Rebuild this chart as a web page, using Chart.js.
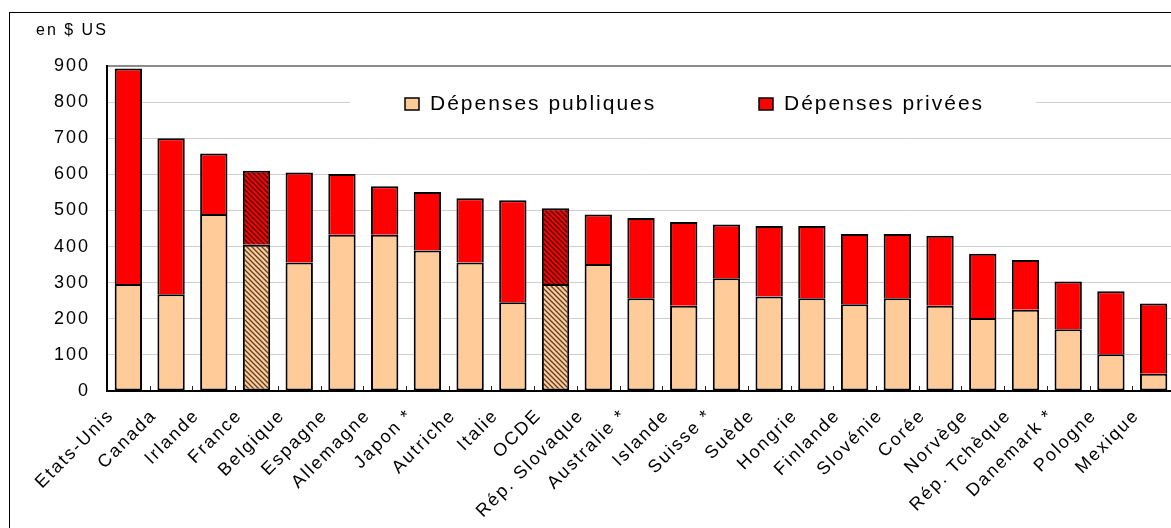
<!DOCTYPE html>
<html>
<head>
<meta charset="utf-8">
<script src="https://cdn.jsdelivr.net/npm/chart.js@4.4.1/dist/chart.umd.min.js"></script>
<style>
  html, body { margin: 0; padding: 0; background: #fff; overflow: hidden; width: 1171px; height: 528px; }
  #wrap { position: relative; width: 1171px; height: 528px; overflow: hidden; }
  #frame { position: absolute; left: 9px; top: 12px; width: 1300px; height: 700px;
           border-left: 1.5px solid #000; border-top: 1.5px solid #000; pointer-events: none; }
  canvas { position: absolute; left: 0; top: 0; }
</style>
</head>
<body>
<div id="wrap">
  <canvas id="chart" width="1176" height="528"></canvas>
  <div id="frame"></div>
</div>
<script>
// Annual spending per student, public vs private share (US dollars)
const countries = ['Etats-Unis', 'Canada', 'Irlande', 'France', 'Belgique', 'Espagne', 'Allemagne',
  'Japon *', 'Autriche', 'Italie', 'OCDE', 'Rép. Slovaque', 'Australie *', 'Islande', 'Suisse *',
  'Suède', 'Hongrie', 'Finlande', 'Slovénie', 'Corée', 'Norvège', 'Rép. Tchèque', 'Danemark *',
  'Pologne', 'Mexique'];
const publicSpend  = [296, 268, 490, 405, 356, 433, 433, 389, 356, 246, 296, 352, 257, 236, 312,
  262, 257, 240, 257, 236, 202, 225, 171, 102, 48];
const privateSpend = [597, 432, 168, 205, 249, 168, 134, 162, 178, 282, 210, 137, 222, 232, 149,
  195, 200, 195, 178, 194, 178, 138, 132, 174, 194];
const yTicks = [0, 100, 200, 300, 400, 500, 600, 700, 800, 900];
const hatchedCountries = ['France', 'OCDE'];
const seriesNames = ['Dépenses publiques', 'Dépenses privées'];
const unitLabel = 'en $ US';

const FONT = '"Liberation Sans", Arial, sans-serif';
const PUBLIC_COLOR = '#FFCC99';
const PRIVATE_COLOR = '#FF0000';

// Diagonal hatching for aggregate / estimated bars
function hatch(base, ink) {
  const s = 5;
  const c = document.createElement('canvas');
  c.width = s; c.height = s;
  const g = c.getContext('2d');
  g.fillStyle = base;
  g.fillRect(0, 0, s, s);
  g.strokeStyle = ink;
  g.lineWidth = 1.3;
  g.beginPath();
  g.moveTo(-1, -1); g.lineTo(s + 1, s + 1);
  g.moveTo(-1, s - 1); g.lineTo(1, s + 1);
  g.moveTo(s - 1, -1); g.lineTo(s + 1, 1);
  g.stroke();
  return g.createPattern(c, 'repeat');
}
const publicHatch = hatch(PUBLIC_COLOR, '#5a3f28');
const privateHatch = hatch(PRIVATE_COLOR, '#3a0000');

function fillFor(plain, pattern) {
  return ctx => hatchedCountries.includes(countries[ctx.dataIndex]) ? pattern : plain;
}

// Wider character spacing on every text draw
const spacing = {
  id: 'spacing',
  beforeUpdate(chart) { chart.ctx.letterSpacing = '2px'; },
  beforeLayout(chart) { chart.ctx.letterSpacing = '2px'; },
  beforeDraw(chart) { chart.ctx.letterSpacing = '2px'; }
};

// Legend drawn inside the plot on a white panel
const legendPanel = {
  left: 350, top: 77, width: 686, height: 50,
  items: [405, 759], box: { w: 14, h: 12, y: 98 }, textGap: 25, baseline: 110
};
const innerLegend = {
  id: 'innerLegend',
  beforeDatasetsDraw(chart) {
    const ctx = chart.ctx;
    const p = legendPanel;
    ctx.save();
    ctx.letterSpacing = '2px';
    ctx.fillStyle = '#fff';
    ctx.fillRect(p.left, p.top, p.width, p.height);
    chart.data.datasets.forEach((ds, i) => {
      const x = p.items[i];
      ctx.fillStyle = ds.legendColor;
      ctx.fillRect(x, p.box.y, p.box.w, p.box.h);
      ctx.lineWidth = 1.5;
      ctx.strokeStyle = '#000';
      ctx.strokeRect(x, p.box.y, p.box.w, p.box.h);
      ctx.fillStyle = '#000';
      ctx.font = '21px ' + FONT;
      ctx.textAlign = 'left';
      ctx.textBaseline = 'alphabetic';
      ctx.fillText(ds.label, x + p.textGap, p.baseline);
    });
    ctx.restore();
  }
};

// Short inward tick marks between categories on the x axis, plus the unit caption
const axisExtras = {
  id: 'axisExtras',
  afterDatasetsDraw(chart) {
    const ctx = chart.ctx;
    const xs = chart.scales.x;
    const bottom = chart.chartArea.bottom;
    const step = xs.getPixelForValue(1) - xs.getPixelForValue(0);
    const first = xs.getPixelForValue(0) - step / 2;
    ctx.save();
    ctx.strokeStyle = '#222';
    ctx.lineWidth = 1;
    ctx.beginPath();
    for (let i = 1; i <= countries.length; i++) {
      const x = Math.round(first + i * step) + 0.5;
      ctx.moveTo(x, bottom);
      ctx.lineTo(x, bottom - 5);
    }
    ctx.stroke();
    ctx.letterSpacing = '2px';
    ctx.fillStyle = '#000';
    ctx.font = '16px ' + FONT;
    ctx.textAlign = 'left';
    ctx.textBaseline = 'alphabetic';
    ctx.fillText(unitLabel, 36, 35);
    ctx.restore();
  }
};

new Chart(document.getElementById('chart'), {
  type: 'bar',
  data: {
    labels: countries,
    datasets: [
      {
        label: seriesNames[0],
        data: publicSpend,
        legendColor: PUBLIC_COLOR,
        backgroundColor: fillFor(PUBLIC_COLOR, publicHatch),
        borderColor: '#000',
        borderWidth: 2,
        borderSkipped: false
      },
      {
        label: seriesNames[1],
        data: privateSpend,
        legendColor: PRIVATE_COLOR,
        backgroundColor: fillFor(PRIVATE_COLOR, privateHatch),
        borderColor: '#000',
        borderWidth: 2,
        borderSkipped: 'bottom'
      }
    ]
  },
  options: {
    responsive: false,
    animation: false,
    devicePixelRatio: 1,
    layout: { padding: { left: 10, top: 66, right: 1, bottom: 0 } },
    datasets: { bar: { categoryPercentage: 1, barPercentage: 0.64 } },
    plugins: { legend: { display: false }, tooltip: { enabled: false }, title: { display: false } },
    scales: {
      x: {
        stacked: true,
        afterFit(s) { s.height = 137; s.paddingLeft = 0; s.paddingRight = 0; },
        grid: { display: false },
        border: { display: true, color: '#000', width: 2 },
        ticks: {
          autoSkip: false, maxRotation: 45, minRotation: 45,
          color: '#000', font: { family: FONT, size: 18 }, padding: 6, labelOffset: -17
        }
      },
      y: {
        stacked: true,
        min: 0, max: 900,
        afterFit(s) { s.width = 97; s.paddingTop = 0; s.paddingBottom = 0; },
        afterBuildTicks(s) { s.ticks = yTicks.map(v => ({ value: v })); },
        grid: {
          drawTicks: false,
          color: c => c.tick && c.tick.value === 900 ? '#8c8c8c' : '#cfcfcf',
          lineWidth: c => c.tick && c.tick.value === 900 ? 2 : 1
        },
        border: { display: true, color: '#000', width: 2 },
        ticks: { color: '#000', font: { family: FONT, size: 18 }, padding: 17 }
      }
    }
  },
  plugins: [spacing, innerLegend, axisExtras]
});
</script>
</body>
</html>
